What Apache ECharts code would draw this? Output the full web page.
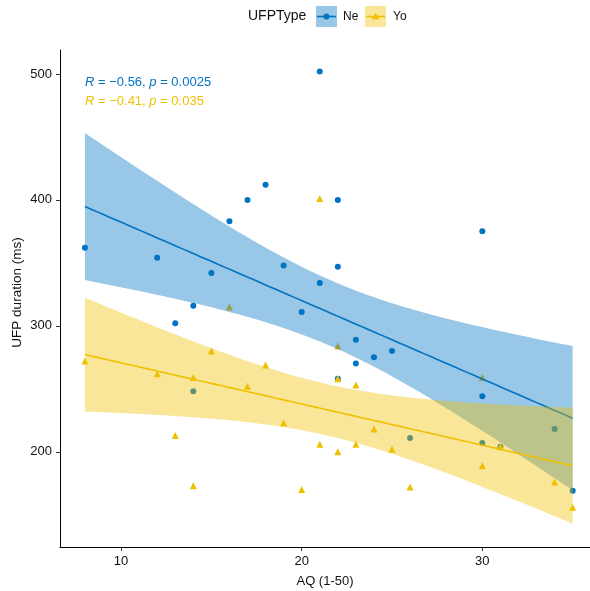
<!DOCTYPE html>
<html><head><meta charset="utf-8">
<script src="https://cdn.jsdelivr.net/npm/echarts@6/dist/echarts.min.js"></script>
<style>html,body{margin:0;padding:0;background:#fff}#c{width:590px;height:591px}</style>
</head><body><div id="c"></div>
<script>
// ---- data ----
const groups = ['Ne', 'Yo'];
const neAQ  = [8, 12, 13, 14, 14, 15, 16, 17, 18, 19, 20, 21, 21, 22, 22, 22, 23, 23, 24, 25, 26, 30, 30, 30, 31, 34, 35];
const neUFP = [362, 354, 302, 316, 248, 342, 383, 400, 412, 348, 311, 334, 502, 400, 347, 258, 289, 270, 275, 280, 211, 375, 244, 207, 204, 218, 169];
const yoAQ  = [8, 12, 13, 14, 14, 15, 16, 17, 18, 19, 20, 21, 21, 22, 22, 22, 23, 23, 24, 25, 26, 30, 30, 31, 34, 35];
const yoUFP = [272, 262, 213, 259, 173, 280, 315, 252, 269, 223, 170, 401, 206, 284, 258, 200, 253, 206, 218, 202, 172, 259, 189, 204, 176, 156];
const xTicks = [10, 20, 30];
const yTicks = [200, 300, 400, 500];
const corrR = ['\u22120.56', '\u22120.41'];
const corrP = ['0.0025', '0.035'];
const legendTitle = 'UFPType';
const xTitle = 'AQ (1-50)';
const yTitle = 'UFP duration (ms)';

const colors = ['#0073C2', '#EFC000'];
const fills = ['rgba(0,115,194,0.4)', 'rgba(239,192,0,0.4)'];
const FONT = '"Liberation Sans", Arial, sans-serif';

function tq(df) { // 97.5% t quantile approximation
  const z = 1.959964;
  return z + (z*z*z + z) / (4*df) + (5*Math.pow(z,5) + 16*z*z*z + 3*z) / (96*df*df)
    + (3*Math.pow(z,7) + 19*Math.pow(z,5) + 17*z*z*z - 15*z) / (384*df*df*df);
}
function fit(xs, ys) {
  const n = xs.length;
  const mx = xs.reduce((a,b)=>a+b,0)/n, my = ys.reduce((a,b)=>a+b,0)/n;
  let sxx = 0, sxy = 0;
  for (let i=0;i<n;i++){ sxx += (xs[i]-mx)**2; sxy += (xs[i]-mx)*(ys[i]-my); }
  const b = sxy/sxx, a = my - b*mx;
  let sse = 0;
  for (let i=0;i<n;i++){ sse += (ys[i]-a-b*xs[i])**2; }
  const s = Math.sqrt(sse/(n-2)), t = tq(n-2);
  const x0 = Math.min(...xs), x1 = Math.max(...xs);
  const pts = [];
  for (let i=0;i<80;i++){
    const x = x0 + (x1-x0)*i/79;
    const yh = a + b*x;
    const se = s*Math.sqrt(1/n + (x-mx)**2/sxx);
    pts.push([x, yh, yh - t*se, yh + t*se]);
  }
  return pts;
}
const bands = [fit(neAQ, neUFP), fit(yoAQ, yoUFP)];

function ribbon(gi) {
  const band = bands[gi];
  return {
    type: 'custom', name: groups[gi], z: 3 + gi, silent: true, clip: true,
    data: [[band[0][0], band[0][1]]],
    renderItem: function (params, api) {
      const upper = band.map(p => api.coord([p[0], p[3]]));
      const lower = band.slice().reverse().map(p => api.coord([p[0], p[2]]));
      return { type: 'polygon', shape: { points: upper.concat(lower) }, style: { fill: fills[gi] } };
    }
  };
}
function regLine(gi) {
  return {
    type: 'line', name: groups[gi], z: 3 + gi, showSymbol: false, silent: true,
    data: bands[gi].map(p => [p[0], p[1]]),
    lineStyle: { color: colors[gi], width: 1.6 }, itemStyle: { color: colors[gi] }
  };
}
function pts(xs, ys) { return xs.map((x,i)=>[x, ys[i]]); }

const chart = echarts.init(document.getElementById('c'));
const textColor = '#111';
chart.setOption({
  animation: false,
  backgroundColor: '#fff',
  grid: { left: 60, right: 0, top: 50, bottom: 44, containLabel: false, outerBoundsMode: 'none' },
  xAxis: {
    type: 'value', min: 6.62, max: 35.96,
    axisLine: { show: true, lineStyle: { color: '#000', width: 1 } },
    axisTick: { show: true, length: 4, lineStyle: { color: '#333' }, customValues: xTicks },
    axisLabel: { customValues: xTicks, color: textColor, fontSize: 13, margin: 8, fontFamily: FONT },
    splitLine: { show: false },
    name: xTitle, nameLocation: 'middle', nameGap: 28, nameMoveOverlap: false,
    nameTextStyle: { color: textColor, fontSize: 13, fontFamily: FONT }
  },
  yAxis: {
    type: 'value', min: 124.4, max: 519,
    axisLine: { show: true, lineStyle: { color: '#000', width: 1 } },
    axisTick: { show: true, length: 4, lineStyle: { color: '#333' }, customValues: yTicks },
    axisLabel: { customValues: yTicks, color: textColor, fontSize: 13, margin: 8, fontFamily: FONT },
    splitLine: { show: false },
    name: yTitle, nameLocation: 'middle', nameGap: 36, nameRotate: 90, nameMoveOverlap: false,
    nameTextStyle: { color: textColor, fontSize: 13.5, fontFamily: FONT, padding: [0, 0, 0, 12] }
  },
  legend: [
    { left: 311, top: 1, itemWidth: 21, itemHeight: 21, selectedMode: false,
      textStyle: { color: textColor, fontSize: 12, fontFamily: FONT, padding: [0,0,0,1] },
      data: [{ name: groups[0], icon: 'rect', itemStyle: { color: fills[0] } }] },
    { left: 360, top: 1, itemWidth: 21, itemHeight: 21, selectedMode: false,
      textStyle: { color: textColor, fontSize: 12, fontFamily: FONT, padding: [0,0,0,2] },
      data: [{ name: groups[1], icon: 'rect', itemStyle: { color: fills[1] } }] }
  ],
  graphic: [
    { type: 'text', left: 248, top: 9, style: { text: legendTitle, fill: textColor, font: '14px ' + FONT } },
    { type: 'line', shape: { x1: 317, y1: 16.5, x2: 336, y2: 16.5 }, style: { stroke: colors[0], lineWidth: 1.6 }, z: 100 },
    { type: 'circle', shape: { cx: 326.5, cy: 16.5, r: 3 }, style: { fill: colors[0] }, z: 100 },
    { type: 'line', shape: { x1: 366, y1: 16.5, x2: 385, y2: 16.5 }, style: { stroke: colors[1], lineWidth: 1.6 }, z: 100 },
    { type: 'polygon', shape: { points: [[375.5, 12.8], [379.3, 19.3], [371.7, 19.3]] }, style: { fill: colors[1] }, z: 100 },
    { type: 'text', left: 85, top: 76, z: 100, style: {
        text: '{i|R} = ' + corrR[0] + ', {i|p} = ' + corrP[0], fill: colors[0], font: '13px ' + FONT,
        rich: { i: { fontStyle: 'italic', fill: colors[0], fontSize: 13, fontFamily: FONT } } } },
    { type: 'text', left: 85, top: 95, z: 100, style: {
        text: '{i|R} = ' + corrR[1] + ', {i|p} = ' + corrP[1], fill: colors[1], font: '13px ' + FONT,
        rich: { i: { fontStyle: 'italic', fill: colors[1], fontSize: 13, fontFamily: FONT } } } }
  ],
  series: [
    { type: 'scatter', name: groups[0], z: 2, symbol: 'circle', symbolSize: 6, data: pts(neAQ, neUFP), itemStyle: { color: colors[0], opacity: 1 } },
    { type: 'scatter', name: groups[1], z: 2, symbol: 'triangle', symbolSize: 7, data: pts(yoAQ, yoUFP), itemStyle: { color: colors[1], opacity: 1 } },
    ribbon(0), regLine(0), ribbon(1), regLine(1)
  ]
});
</script></body></html>
